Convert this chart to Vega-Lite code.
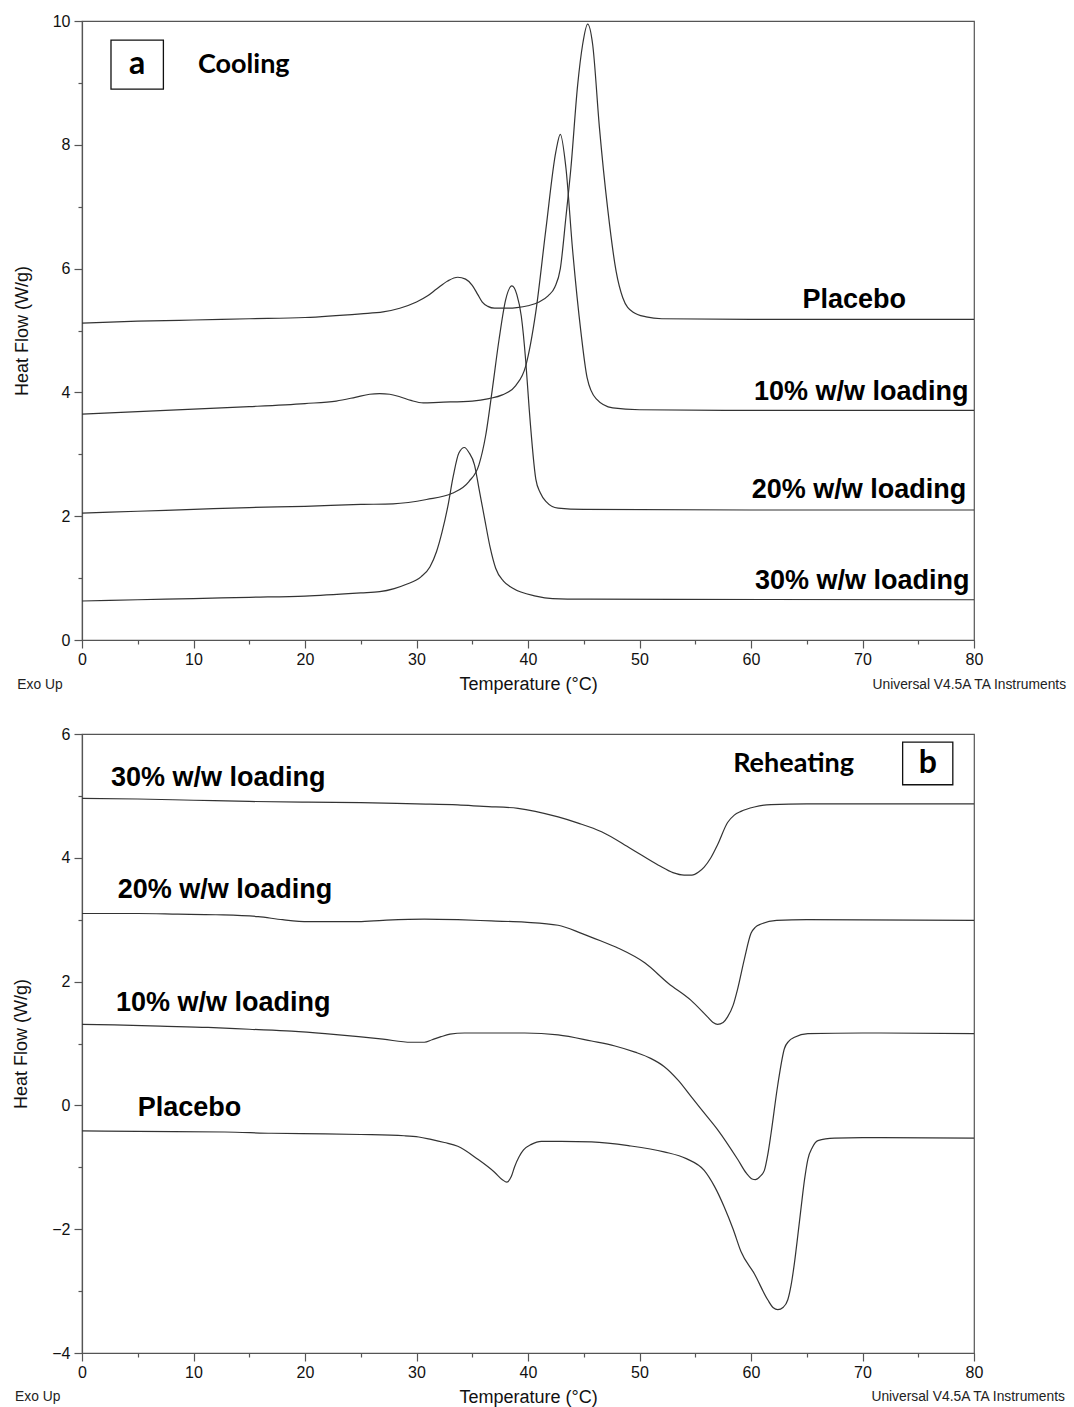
{
  "$schema": "https://vega.github.io/schema/vega-lite/v6.json",
  "background": "white",
  "padding": {"left": 12, "top": 12, "right": 2, "bottom": 4},
  "bounds": "flush",
  "spacing": 94,
  "config": {
    "view": {"stroke": "#555", "strokeWidth": 1.2},
    "axis": {
      "grid": false,
      "labelFont": "Liberation Sans",
      "titleFont": "Liberation Sans",
      "labelFontSize": 16,
      "labelColor": "#111",
      "titleColor": "#111",
      "titleFontWeight": "normal",
      "domainColor": "#555",
      "domainWidth": 1.2,
      "tickColor": "#555",
      "tickWidth": 1.2,
      "labelOverlap": false,
      "labelFlush": false,
      "format": "~g"
    }
  },
  "datasets": {
    "curves": [
      {"p":"a","s":"Placebo","t":0,"hf":5.12},{"p":"a","s":"Placebo","t":5,"hf":5.15},{"p":"a","s":"Placebo","t":10,"hf":5.17},{"p":"a","s":"Placebo","t":15,"hf":5.19},{"p":"a","s":"Placebo","t":20,"hf":5.21},{"p":"a","s":"Placebo","t":25,"hf":5.27},{"p":"a","s":"Placebo","t":27,"hf":5.30},{"p":"a","s":"Placebo","t":28.5,"hf":5.36},{"p":"a","s":"Placebo","t":30,"hf":5.46},{"p":"a","s":"Placebo","t":31,"hf":5.56},{"p":"a","s":"Placebo","t":31.8,"hf":5.67},{"p":"a","s":"Placebo","t":32.8,"hf":5.80},{"p":"a","s":"Placebo","t":33.7,"hf":5.86},{"p":"a","s":"Placebo","t":34.4,"hf":5.83},{"p":"a","s":"Placebo","t":35.0,"hf":5.73},{"p":"a","s":"Placebo","t":35.5,"hf":5.58},{"p":"a","s":"Placebo","t":35.9,"hf":5.46},{"p":"a","s":"Placebo","t":36.4,"hf":5.39},{"p":"a","s":"Placebo","t":37,"hf":5.36},{"p":"a","s":"Placebo","t":38,"hf":5.36},{"p":"a","s":"Placebo","t":39,"hf":5.37},{"p":"a","s":"Placebo","t":40,"hf":5.40},{"p":"a","s":"Placebo","t":41,"hf":5.46},{"p":"a","s":"Placebo","t":41.8,"hf":5.56},{"p":"a","s":"Placebo","t":42.4,"hf":5.70},{"p":"a","s":"Placebo","t":42.9,"hf":6.0},{"p":"a","s":"Placebo","t":43.4,"hf":6.83},{"p":"a","s":"Placebo","t":43.85,"hf":7.63},{"p":"a","s":"Placebo","t":44.45,"hf":8.96},{"p":"a","s":"Placebo","t":44.9,"hf":9.62},{"p":"a","s":"Placebo","t":45.35,"hf":9.95},{"p":"a","s":"Placebo","t":45.8,"hf":9.62},{"p":"a","s":"Placebo","t":46.4,"hf":8.29},{"p":"a","s":"Placebo","t":47.15,"hf":6.96},{"p":"a","s":"Placebo","t":47.9,"hf":5.96},{"p":"a","s":"Placebo","t":48.5,"hf":5.53},{"p":"a","s":"Placebo","t":49.4,"hf":5.30},{"p":"a","s":"Placebo","t":50.6,"hf":5.22},{"p":"a","s":"Placebo","t":52,"hf":5.19},{"p":"a","s":"Placebo","t":60,"hf":5.18},{"p":"a","s":"Placebo","t":70,"hf":5.18},{"p":"a","s":"Placebo","t":80,"hf":5.18},

      {"p":"a","s":"10%","t":0,"hf":3.65},{"p":"a","s":"10%","t":5,"hf":3.69},{"p":"a","s":"10%","t":10,"hf":3.73},{"p":"a","s":"10%","t":15,"hf":3.77},{"p":"a","s":"10%","t":20,"hf":3.82},{"p":"a","s":"10%","t":22.8,"hf":3.86},{"p":"a","s":"10%","t":24.5,"hf":3.92},{"p":"a","s":"10%","t":25.8,"hf":3.97},{"p":"a","s":"10%","t":26.7,"hf":3.98},{"p":"a","s":"10%","t":27.6,"hf":3.97},{"p":"a","s":"10%","t":28.5,"hf":3.93},{"p":"a","s":"10%","t":29.5,"hf":3.87},{"p":"a","s":"10%","t":30.6,"hf":3.83},{"p":"a","s":"10%","t":32,"hf":3.84},{"p":"a","s":"10%","t":35,"hf":3.86},{"p":"a","s":"10%","t":36.5,"hf":3.90},{"p":"a","s":"10%","t":37.7,"hf":3.96},{"p":"a","s":"10%","t":38.9,"hf":4.11},{"p":"a","s":"10%","t":39.8,"hf":4.43},{"p":"a","s":"10%","t":40.7,"hf":5.30},{"p":"a","s":"10%","t":41.6,"hf":6.63},{"p":"a","s":"10%","t":42.5,"hf":7.89},{"p":"a","s":"10%","t":42.9,"hf":8.17},{"p":"a","s":"10%","t":43.4,"hf":7.63},{"p":"a","s":"10%","t":44.0,"hf":6.30},{"p":"a","s":"10%","t":44.75,"hf":4.97},{"p":"a","s":"10%","t":45.3,"hf":4.24},{"p":"a","s":"10%","t":46.1,"hf":3.90},{"p":"a","s":"10%","t":47.6,"hf":3.75},{"p":"a","s":"10%","t":50,"hf":3.72},{"p":"a","s":"10%","t":60,"hf":3.71},{"p":"a","s":"10%","t":80,"hf":3.71},

      {"p":"a","s":"20%","t":0,"hf":2.05},{"p":"a","s":"20%","t":5,"hf":2.08},{"p":"a","s":"20%","t":10,"hf":2.11},{"p":"a","s":"20%","t":15,"hf":2.14},{"p":"a","s":"20%","t":20,"hf":2.16},{"p":"a","s":"20%","t":25,"hf":2.19},{"p":"a","s":"20%","t":27.9,"hf":2.20},{"p":"a","s":"20%","t":30.9,"hf":2.27},{"p":"a","s":"20%","t":33.2,"hf":2.37},{"p":"a","s":"20%","t":34.7,"hf":2.56},{"p":"a","s":"20%","t":35.6,"hf":2.83},{"p":"a","s":"20%","t":36.2,"hf":3.3},{"p":"a","s":"20%","t":36.8,"hf":4.05},{"p":"a","s":"20%","t":37.4,"hf":4.85},{"p":"a","s":"20%","t":38.0,"hf":5.50},{"p":"a","s":"20%","t":38.55,"hf":5.72},{"p":"a","s":"20%","t":39.0,"hf":5.58},{"p":"a","s":"20%","t":39.4,"hf":5.23},{"p":"a","s":"20%","t":39.8,"hf":4.5},{"p":"a","s":"20%","t":40.1,"hf":3.75},{"p":"a","s":"20%","t":40.7,"hf":2.6},{"p":"a","s":"20%","t":41.1,"hf":2.38},{"p":"a","s":"20%","t":41.6,"hf":2.24},{"p":"a","s":"20%","t":42.7,"hf":2.13},{"p":"a","s":"20%","t":45,"hf":2.11},{"p":"a","s":"20%","t":60,"hf":2.10},{"p":"a","s":"20%","t":80,"hf":2.10},

      {"p":"a","s":"30%","t":0,"hf":0.63},{"p":"a","s":"30%","t":5,"hf":0.65},{"p":"a","s":"30%","t":10,"hf":0.67},{"p":"a","s":"30%","t":15,"hf":0.69},{"p":"a","s":"30%","t":20,"hf":0.71},{"p":"a","s":"30%","t":25,"hf":0.76},{"p":"a","s":"30%","t":26.7,"hf":0.78},{"p":"a","s":"30%","t":28,"hf":0.83},{"p":"a","s":"30%","t":29.1,"hf":0.90},{"p":"a","s":"30%","t":30.4,"hf":1.02},{"p":"a","s":"30%","t":31.2,"hf":1.18},{"p":"a","s":"30%","t":31.8,"hf":1.43},{"p":"a","s":"30%","t":32.3,"hf":1.75},{"p":"a","s":"30%","t":32.8,"hf":2.15},{"p":"a","s":"30%","t":33.3,"hf":2.65},{"p":"a","s":"30%","t":33.8,"hf":3.02},{"p":"a","s":"30%","t":34.3,"hf":3.11},{"p":"a","s":"30%","t":34.7,"hf":3.03},{"p":"a","s":"30%","t":35.2,"hf":2.83},{"p":"a","s":"30%","t":35.6,"hf":2.45},{"p":"a","s":"30%","t":36.1,"hf":1.97},{"p":"a","s":"30%","t":36.6,"hf":1.5},{"p":"a","s":"30%","t":37.1,"hf":1.16},{"p":"a","s":"30%","t":37.8,"hf":0.95},{"p":"a","s":"30%","t":38.6,"hf":0.84},{"p":"a","s":"30%","t":40.7,"hf":0.71},{"p":"a","s":"30%","t":42.2,"hf":0.67},{"p":"a","s":"30%","t":45,"hf":0.66},{"p":"a","s":"30%","t":80,"hf":0.65},

      {"p":"b","s":"30%","t":0,"hf":4.96},{"p":"b","s":"30%","t":5,"hf":4.95},{"p":"b","s":"30%","t":10,"hf":4.93},{"p":"b","s":"30%","t":15,"hf":4.91},{"p":"b","s":"30%","t":20,"hf":4.90},{"p":"b","s":"30%","t":25,"hf":4.89},{"p":"b","s":"30%","t":30,"hf":4.87},{"p":"b","s":"30%","t":33.7,"hf":4.855},{"p":"b","s":"30%","t":36,"hf":4.83},{"p":"b","s":"30%","t":39.1,"hf":4.80},{"p":"b","s":"30%","t":42.7,"hf":4.66},{"p":"b","s":"30%","t":44.5,"hf":4.56},{"p":"b","s":"30%","t":46.6,"hf":4.42},{"p":"b","s":"30%","t":49.2,"hf":4.15},{"p":"b","s":"30%","t":51.7,"hf":3.88},{"p":"b","s":"30%","t":53.0,"hf":3.76},{"p":"b","s":"30%","t":54.0,"hf":3.72},{"p":"b","s":"30%","t":54.7,"hf":3.72},{"p":"b","s":"30%","t":55.3,"hf":3.77},{"p":"b","s":"30%","t":55.8,"hf":3.85},{"p":"b","s":"30%","t":56.4,"hf":4.0},{"p":"b","s":"30%","t":57.0,"hf":4.21},{"p":"b","s":"30%","t":57.9,"hf":4.57},{"p":"b","s":"30%","t":58.5,"hf":4.69},{"p":"b","s":"30%","t":59.1,"hf":4.75},{"p":"b","s":"30%","t":60.3,"hf":4.82},{"p":"b","s":"30%","t":61.8,"hf":4.86},{"p":"b","s":"30%","t":65,"hf":4.87},{"p":"b","s":"30%","t":80,"hf":4.87},

      {"p":"b","s":"20%","t":0,"hf":3.10},{"p":"b","s":"20%","t":5,"hf":3.10},{"p":"b","s":"20%","t":8.6,"hf":3.09},{"p":"b","s":"20%","t":12,"hf":3.08},{"p":"b","s":"20%","t":15.8,"hf":3.05},{"p":"b","s":"20%","t":18,"hf":3.00},{"p":"b","s":"20%","t":20.3,"hf":2.97},{"p":"b","s":"20%","t":24.8,"hf":2.97},{"p":"b","s":"20%","t":27,"hf":2.99},{"p":"b","s":"20%","t":30.7,"hf":3.01},{"p":"b","s":"20%","t":33.7,"hf":3.00},{"p":"b","s":"20%","t":36.7,"hf":2.98},{"p":"b","s":"20%","t":39.7,"hf":2.96},{"p":"b","s":"20%","t":42.7,"hf":2.91},{"p":"b","s":"20%","t":44.8,"hf":2.78},{"p":"b","s":"20%","t":46.5,"hf":2.66},{"p":"b","s":"20%","t":48.1,"hf":2.54},{"p":"b","s":"20%","t":50.5,"hf":2.30},{"p":"b","s":"20%","t":52.6,"hf":1.97},{"p":"b","s":"20%","t":54.6,"hf":1.70},{"p":"b","s":"20%","t":56.1,"hf":1.43},{"p":"b","s":"20%","t":56.6,"hf":1.34},{"p":"b","s":"20%","t":57.0,"hf":1.31},{"p":"b","s":"20%","t":57.5,"hf":1.34},{"p":"b","s":"20%","t":57.9,"hf":1.43},{"p":"b","s":"20%","t":58.4,"hf":1.62},{"p":"b","s":"20%","t":58.8,"hf":1.88},{"p":"b","s":"20%","t":59.4,"hf":2.36},{"p":"b","s":"20%","t":60.0,"hf":2.78},{"p":"b","s":"20%","t":60.4,"hf":2.88},{"p":"b","s":"20%","t":60.9,"hf":2.93},{"p":"b","s":"20%","t":62.3,"hf":2.99},{"p":"b","s":"20%","t":65,"hf":3.00},{"p":"b","s":"20%","t":80,"hf":2.99},

      {"p":"b","s":"10%","t":0,"hf":1.31},{"p":"b","s":"10%","t":2.9,"hf":1.30},{"p":"b","s":"10%","t":7,"hf":1.28},{"p":"b","s":"10%","t":11.3,"hf":1.26},{"p":"b","s":"10%","t":15,"hf":1.23},{"p":"b","s":"10%","t":18.8,"hf":1.20},{"p":"b","s":"10%","t":21.8,"hf":1.16},{"p":"b","s":"10%","t":24.8,"hf":1.11},{"p":"b","s":"10%","t":27,"hf":1.07},{"p":"b","s":"10%","t":29.5,"hf":1.02},{"p":"b","s":"10%","t":30.7,"hf":1.02},{"p":"b","s":"10%","t":31.4,"hf":1.06},{"p":"b","s":"10%","t":32.2,"hf":1.11},{"p":"b","s":"10%","t":33,"hf":1.15},{"p":"b","s":"10%","t":34.3,"hf":1.17},{"p":"b","s":"10%","t":37,"hf":1.17},{"p":"b","s":"10%","t":39.7,"hf":1.17},{"p":"b","s":"10%","t":42.7,"hf":1.14},{"p":"b","s":"10%","t":45.7,"hf":1.04},{"p":"b","s":"10%","t":47.8,"hf":0.96},{"p":"b","s":"10%","t":49.6,"hf":0.86},{"p":"b","s":"10%","t":51,"hf":0.76},{"p":"b","s":"10%","t":52.2,"hf":0.63},{"p":"b","s":"10%","t":53.5,"hf":0.40},{"p":"b","s":"10%","t":54.6,"hf":0.15},{"p":"b","s":"10%","t":55.8,"hf":-0.12},{"p":"b","s":"10%","t":57.0,"hf":-0.39},{"p":"b","s":"10%","t":58.8,"hf":-0.87},{"p":"b","s":"10%","t":59.6,"hf":-1.10},{"p":"b","s":"10%","t":60.1,"hf":-1.19},{"p":"b","s":"10%","t":60.4,"hf":-1.20},{"p":"b","s":"10%","t":60.8,"hf":-1.15},{"p":"b","s":"10%","t":61.2,"hf":-1.05},{"p":"b","s":"10%","t":61.5,"hf":-0.8},{"p":"b","s":"10%","t":61.8,"hf":-0.45},{"p":"b","s":"10%","t":62.4,"hf":0.33},{"p":"b","s":"10%","t":63.0,"hf":0.92},{"p":"b","s":"10%","t":63.4,"hf":1.04},{"p":"b","s":"10%","t":63.9,"hf":1.10},{"p":"b","s":"10%","t":65.1,"hf":1.16},{"p":"b","s":"10%","t":70,"hf":1.17},{"p":"b","s":"10%","t":80,"hf":1.16},

      {"p":"b","s":"Placebo","t":0,"hf":-0.41},{"p":"b","s":"Placebo","t":5,"hf":-0.42},{"p":"b","s":"Placebo","t":12.8,"hf":-0.43},{"p":"b","s":"Placebo","t":17,"hf":-0.45},{"p":"b","s":"Placebo","t":21.8,"hf":-0.46},{"p":"b","s":"Placebo","t":25,"hf":-0.47},{"p":"b","s":"Placebo","t":28.9,"hf":-0.49},{"p":"b","s":"Placebo","t":30.2,"hf":-0.51},{"p":"b","s":"Placebo","t":31.3,"hf":-0.55},{"p":"b","s":"Placebo","t":32.5,"hf":-0.60},{"p":"b","s":"Placebo","t":33.7,"hf":-0.66},{"p":"b","s":"Placebo","t":35.5,"hf":-0.87},{"p":"b","s":"Placebo","t":37.0,"hf":-1.08},{"p":"b","s":"Placebo","t":37.7,"hf":-1.20},{"p":"b","s":"Placebo","t":38.1,"hf":-1.24},{"p":"b","s":"Placebo","t":38.5,"hf":-1.15},{"p":"b","s":"Placebo","t":38.8,"hf":-0.99},{"p":"b","s":"Placebo","t":39.2,"hf":-0.83},{"p":"b","s":"Placebo","t":39.6,"hf":-0.72},{"p":"b","s":"Placebo","t":40.3,"hf":-0.63},{"p":"b","s":"Placebo","t":41.2,"hf":-0.58},{"p":"b","s":"Placebo","t":43,"hf":-0.58},{"p":"b","s":"Placebo","t":45.7,"hf":-0.59},{"p":"b","s":"Placebo","t":49,"hf":-0.65},{"p":"b","s":"Placebo","t":52.2,"hf":-0.75},{"p":"b","s":"Placebo","t":54.2,"hf":-0.86},{"p":"b","s":"Placebo","t":55.8,"hf":-1.05},{"p":"b","s":"Placebo","t":56.7,"hf":-1.30},{"p":"b","s":"Placebo","t":57.6,"hf":-1.64},{"p":"b","s":"Placebo","t":58.4,"hf":-2.0},{"p":"b","s":"Placebo","t":59.1,"hf":-2.36},{"p":"b","s":"Placebo","t":60.3,"hf":-2.72},{"p":"b","s":"Placebo","t":61.5,"hf":-3.14},{"p":"b","s":"Placebo","t":62.0,"hf":-3.27},{"p":"b","s":"Placebo","t":62.4,"hf":-3.30},{"p":"b","s":"Placebo","t":62.9,"hf":-3.26},{"p":"b","s":"Placebo","t":63.3,"hf":-3.14},{"p":"b","s":"Placebo","t":63.6,"hf":-2.9},{"p":"b","s":"Placebo","t":63.9,"hf":-2.54},{"p":"b","s":"Placebo","t":64.2,"hf":-2.1},{"p":"b","s":"Placebo","t":64.5,"hf":-1.64},{"p":"b","s":"Placebo","t":64.8,"hf":-1.2},{"p":"b","s":"Placebo","t":65.1,"hf":-0.87},{"p":"b","s":"Placebo","t":65.5,"hf":-0.68},{"p":"b","s":"Placebo","t":66.0,"hf":-0.57},{"p":"b","s":"Placebo","t":67.5,"hf":-0.53},{"p":"b","s":"Placebo","t":70,"hf":-0.52},{"p":"b","s":"Placebo","t":80,"hf":-0.53}
    ],
    "notes": [
      {"p":"a","k":"curve","t":79.5,"hf":4.01,"label":"10% w/w loading"},
      {"p":"a","k":"curve","t":79.3,"hf":2.43,"label":"20% w/w loading"},
      {"p":"a","k":"curve","t":79.6,"hf":0.95,"label":"30% w/w loading"},
      {"p":"a","k":"curve","t":73.9,"hf":5.49,"label":"Placebo"},
      {"p":"a","k":"head","t":10.4,"hf":9.29,"label":"Cooling"},
      {"p":"a","k":"letter","t":4.95,"hf":9.3,"label":"a"},
      {"p":"a","k":"foot","t":-5.8,"hf":-0.72,"label":"Exo Up"},
      {"p":"a","k":"foot","t":70.9,"hf":-0.72,"label":"Universal V4.5A TA Instruments"},
      {"p":"b","k":"curve","t":2.6,"hf":5.29,"label":"30% w/w loading"},
      {"p":"b","k":"curve","t":3.2,"hf":3.48,"label":"20% w/w loading"},
      {"p":"b","k":"curve","t":3.05,"hf":1.65,"label":"10% w/w loading"},
      {"p":"b","k":"curve","t":5.0,"hf":-0.05,"label":"Placebo"},
      {"p":"b","k":"head","t":58.4,"hf":5.52,"label":"Reheating"},
      {"p":"b","k":"letter","t":75.85,"hf":5.53,"label":"b"},
      {"p":"b","k":"foot","t":-6.0,"hf":-4.71,"label":"Exo Up"},
      {"p":"b","k":"foot","t":70.8,"hf":-4.71,"label":"Universal V4.5A TA Instruments"}
    ],
    "boxes": [
      {"p":"a","t":2.6,"t2":7.3,"hf":9.69,"hf2":8.90},
      {"p":"b","t":73.6,"t2":78.1,"hf":5.87,"hf2":5.18}
    ]
  },
  "vconcat": [
    {
      "width": 892,
      "height": 619,
      "layer": [
        {
          "data": {"name": "curves"},
          "transform": [{"filter": "datum.p === 'a'"}],
          "mark": {"type": "line", "interpolate": "monotone", "color": "#333", "strokeWidth": 1.2},
          "encoding": {
            "x": {"field": "t", "type": "quantitative",
                  "scale": {"domain": [0, 80], "nice": false},
                  "axis": {"values": [0,5,10,15,20,25,30,35,40,45,50,55,60,65,70,75,80],
                           "labelExpr": "datum.value % 10 === 0 ? datum.label : ''",
                           "tickSize": {"condition": {"test": "datum.value % 10 === 0", "value": 8}, "value": 4},
                           "labelPadding": 3, "title": "Temperature (°C)", "titleFontSize": 18, "titlePadding": 8}},
            "y": {"field": "hf", "type": "quantitative",
                  "scale": {"domain": [0, 10], "nice": false, "zero": false},
                  "axis": {"values": [0,0.5,1,1.5,2,2.5,3,3.5,4,4.5,5,5.5,6,6.5,7,7.5,8,8.5,9,9.5,10],
                           "labelExpr": "datum.value % 2 === 0 ? datum.label : ''",
                           "tickSize": {"condition": {"test": "datum.value % 2 === 0", "value": 8}, "value": 4},
                           "labelPadding": 4, "title": "Heat Flow (W/g)", "titleFontSize": 18, "titlePadding": 21}},
            "detail": {"field": "s"}
          }
        },
        {
          "data": {"name": "boxes"},
          "transform": [{"filter": "datum.p === 'a'"}],
          "mark": {"type": "rect", "fill": null, "stroke": "#111", "strokeWidth": 1.3},
          "encoding": {
            "x": {"field": "t", "type": "quantitative"}, "x2": {"field": "t2"},
            "y": {"field": "hf", "type": "quantitative"}, "y2": {"field": "hf2"}
          }
        },
        {
          "data": {"name": "notes"},
          "transform": [{"filter": "datum.p === 'a' && datum.k === 'curve'"}],
          "mark": {"type": "text", "align": "right", "baseline": "middle", "font": "Liberation Sans", "fontWeight": "bold", "fontSize": 27, "color": "#000"},
          "encoding": {"x": {"field": "t", "type": "quantitative"}, "y": {"field": "hf", "type": "quantitative"}, "text": {"field": "label"}}
        },
        {
          "data": {"name": "notes"},
          "transform": [{"filter": "datum.p === 'a' && datum.k === 'head'"}],
          "mark": {"type": "text", "align": "left", "baseline": "middle", "font": "Lato", "fontWeight": "bold", "fontSize": 27, "color": "#000"},
          "encoding": {"x": {"field": "t", "type": "quantitative"}, "y": {"field": "hf", "type": "quantitative"}, "text": {"field": "label"}}
        },
        {
          "data": {"name": "notes"},
          "transform": [{"filter": "datum.p === 'a' && datum.k === 'letter'"}],
          "mark": {"type": "text", "align": "center", "baseline": "middle", "font": "Lato", "fontWeight": "bold", "fontSize": 32, "color": "#000"},
          "encoding": {"x": {"field": "t", "type": "quantitative"}, "y": {"field": "hf", "type": "quantitative"}, "text": {"field": "label"}}
        },
        {
          "data": {"name": "notes"},
          "transform": [{"filter": "datum.p === 'a' && datum.k === 'foot'"}],
          "mark": {"type": "text", "align": "left", "baseline": "middle", "font": "Liberation Sans", "fontSize": 13.8, "color": "#222"},
          "encoding": {"x": {"field": "t", "type": "quantitative"}, "y": {"field": "hf", "type": "quantitative"}, "text": {"field": "label"}}
        }
      ]
    },
    {
      "width": 892,
      "height": 619,
      "layer": [
        {
          "data": {"name": "curves"},
          "transform": [{"filter": "datum.p === 'b'"}],
          "mark": {"type": "line", "interpolate": "monotone", "color": "#333", "strokeWidth": 1.2},
          "encoding": {
            "x": {"field": "t", "type": "quantitative",
                  "scale": {"domain": [0, 80], "nice": false},
                  "axis": {"values": [0,5,10,15,20,25,30,35,40,45,50,55,60,65,70,75,80],
                           "labelExpr": "datum.value % 10 === 0 ? datum.label : ''",
                           "tickSize": {"condition": {"test": "datum.value % 10 === 0", "value": 8}, "value": 4},
                           "labelPadding": 3, "title": "Temperature (°C)", "titleFontSize": 18, "titlePadding": 8}},
            "y": {"field": "hf", "type": "quantitative",
                  "scale": {"domain": [-4, 6], "nice": false, "zero": false},
                  "axis": {"values": [-4,-3.5,-3,-2.5,-2,-1.5,-1,-0.5,0,0.5,1,1.5,2,2.5,3,3.5,4,4.5,5,5.5,6],
                           "labelExpr": "datum.value % 2 === 0 ? datum.label : ''",
                           "tickSize": {"condition": {"test": "datum.value % 2 === 0", "value": 8}, "value": 4},
                           "labelPadding": 4, "title": "Heat Flow (W/g)", "titleFontSize": 18, "titlePadding": 21}},
            "detail": {"field": "s"}
          }
        },
        {
          "data": {"name": "boxes"},
          "transform": [{"filter": "datum.p === 'b'"}],
          "mark": {"type": "rect", "fill": null, "stroke": "#111", "strokeWidth": 1.3},
          "encoding": {
            "x": {"field": "t", "type": "quantitative"}, "x2": {"field": "t2"},
            "y": {"field": "hf", "type": "quantitative"}, "y2": {"field": "hf2"}
          }
        },
        {
          "data": {"name": "notes"},
          "transform": [{"filter": "datum.p === 'b' && datum.k === 'curve'"}],
          "mark": {"type": "text", "align": "left", "baseline": "middle", "font": "Liberation Sans", "fontWeight": "bold", "fontSize": 27, "color": "#000"},
          "encoding": {"x": {"field": "t", "type": "quantitative"}, "y": {"field": "hf", "type": "quantitative"}, "text": {"field": "label"}}
        },
        {
          "data": {"name": "notes"},
          "transform": [{"filter": "datum.p === 'b' && datum.k === 'head'"}],
          "mark": {"type": "text", "align": "left", "baseline": "middle", "font": "Lato", "fontWeight": "bold", "fontSize": 27, "color": "#000"},
          "encoding": {"x": {"field": "t", "type": "quantitative"}, "y": {"field": "hf", "type": "quantitative"}, "text": {"field": "label"}}
        },
        {
          "data": {"name": "notes"},
          "transform": [{"filter": "datum.p === 'b' && datum.k === 'letter'"}],
          "mark": {"type": "text", "align": "center", "baseline": "middle", "font": "Lato", "fontWeight": "bold", "fontSize": 32, "color": "#000"},
          "encoding": {"x": {"field": "t", "type": "quantitative"}, "y": {"field": "hf", "type": "quantitative"}, "text": {"field": "label"}}
        },
        {
          "data": {"name": "notes"},
          "transform": [{"filter": "datum.p === 'b' && datum.k === 'foot'"}],
          "mark": {"type": "text", "align": "left", "baseline": "middle", "font": "Liberation Sans", "fontSize": 13.8, "color": "#222"},
          "encoding": {"x": {"field": "t", "type": "quantitative"}, "y": {"field": "hf", "type": "quantitative"}, "text": {"field": "label"}}
        }
      ]
    }
  ]
}
